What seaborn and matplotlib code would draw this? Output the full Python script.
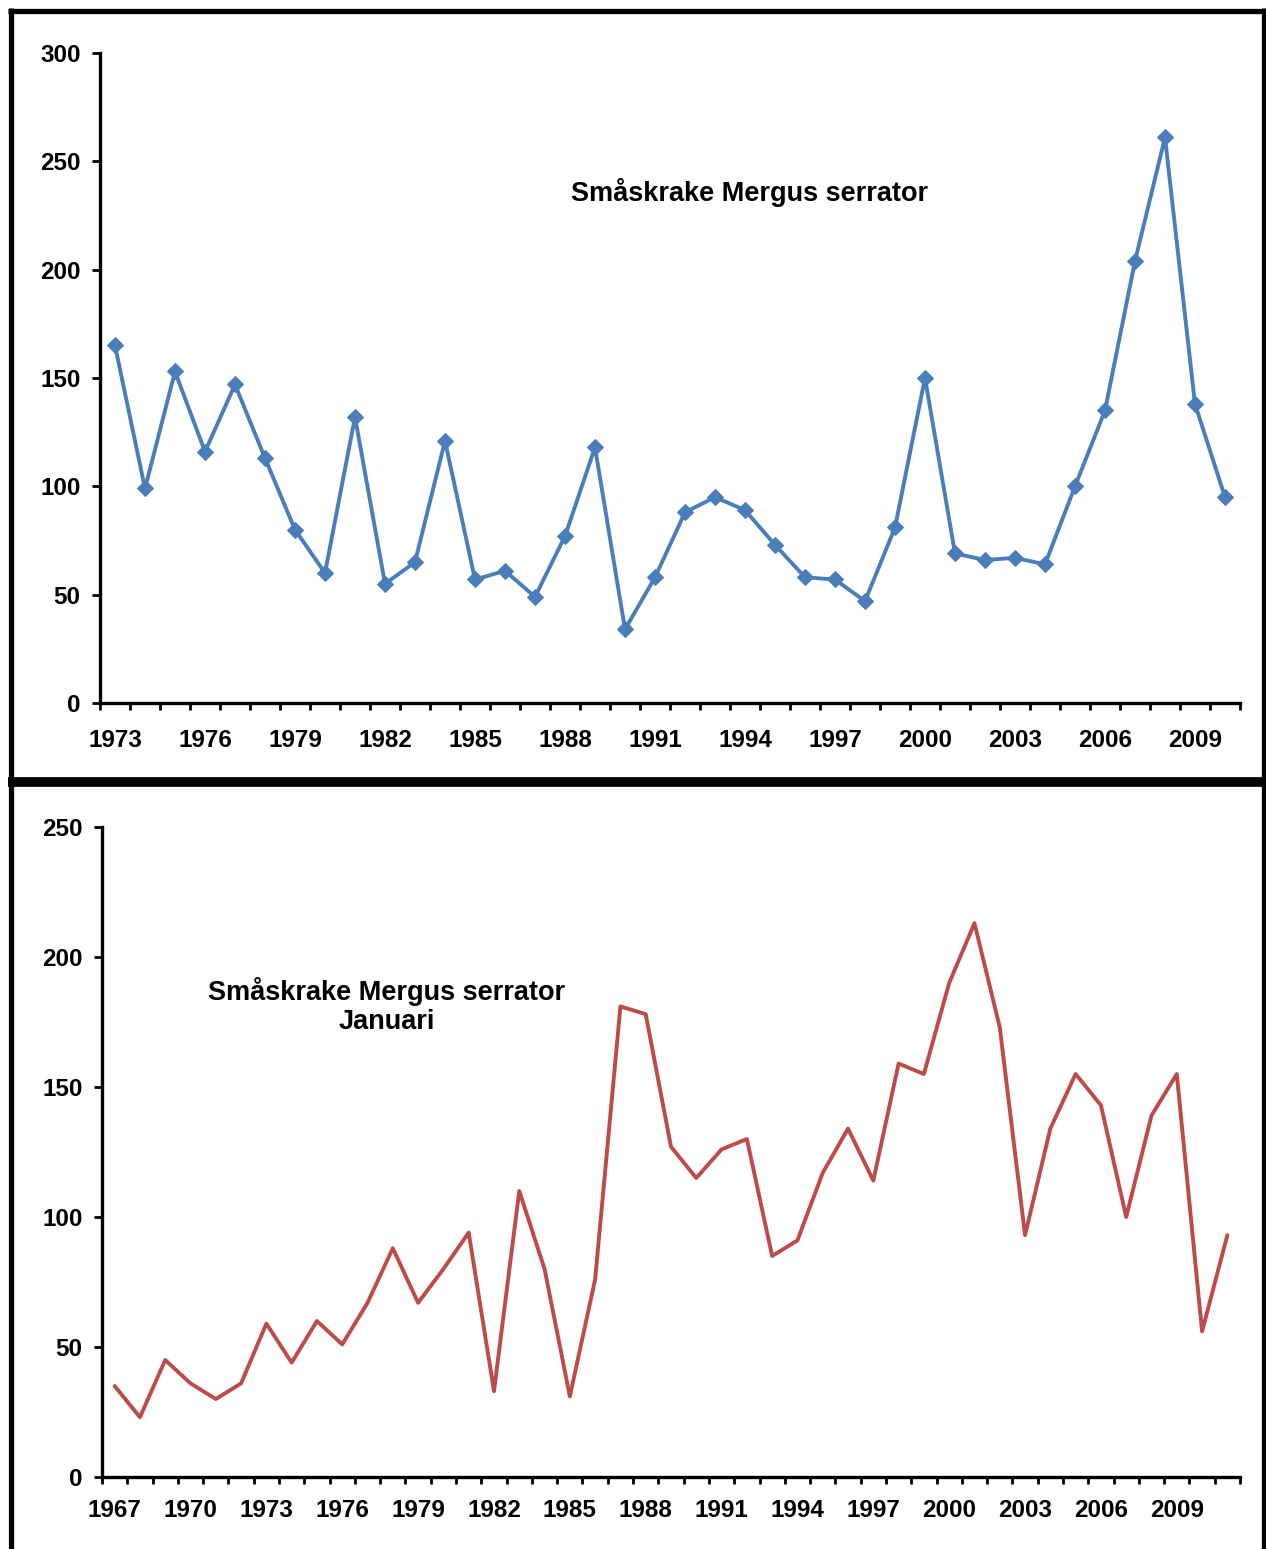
import numpy as np
import matplotlib
matplotlib.use("Agg")
import matplotlib.pyplot as plt
import seaborn as sns

sns.set_theme(style="white")
plt.rcParams["font.family"] = ["Liberation Sans", "DejaVu Sans"]
plt.rcParams["font.weight"] = "bold"
plt.rcParams["text.color"] = "black"
plt.rcParams["xtick.color"] = "black"
plt.rcParams["ytick.color"] = "black"

# Top panel: annual counts 1973-2010
years_top = list(range(1973, 2011))
counts_top = [165, 99, 153, 116, 147, 113, 80, 60, 132, 55,
              65, 121, 57, 61, 49, 77, 118, 34, 58, 88,
              95, 89, 73, 58, 57, 47, 81, 150, 69, 66,
              67, 64, 100, 135, 204, 261, 138, 95]

# Bottom panel: January counts 1967-2011
years_bot = list(range(1967, 2012))
counts_bot = [35, 23, 45, 36, 30, 36, 59, 44, 60, 51,
              67, 88, 67, 80, 94, 33, 110, 80, 31, 76,
              181, 178, 127, 115, 126, 130, 85, 91, 117, 134,
              114, 159, 155, 190, 213, 173, 93, 134, 155, 143,
              100, 139, 155, 56, 93]

W, H = 1266, 1549
fig = plt.figure(figsize=(W / 100, H / 100), dpi=100)
fig.patch.set_facecolor("white")


def frac(x0, y0, x1, y1):
    # pixel box -> figure fraction [left, bottom, width, height]
    return [x0 / W, 1 - y1 / H, (x1 - x0) / W, (y1 - y0) / H]


def style_axes(ax, years, ymax, step, xpad):
    n = len(years)
    ax.set_xlim(-0.5, n - 0.5)
    ax.set_ylim(0, ymax)
    for s in ["top", "right"]:
        ax.spines[s].set_visible(False)
    for s in ["left", "bottom"]:
        ax.spines[s].set_color("black")
        ax.spines[s].set_linewidth(2.4)
    ax.set_facecolor("white")
    ax.grid(False)
    lab_pos = np.arange(0, n, 3)
    ax.set_xticks(lab_pos, [str(years[i]) for i in lab_pos])
    ax.set_xticks(np.arange(-0.5, n, 1), minor=True)
    ax.tick_params(axis="x", which="major", length=0, pad=xpad, labelsize=17.5,
                   labelcolor="black")
    ax.tick_params(axis="x", which="minor", length=5, width=2, color="black",
                   direction="out", bottom=True)
    ax.set_yticks(np.arange(0, ymax + 1, step))
    ax.tick_params(axis="y", length=6, width=2, color="black", direction="out",
                   left=True, pad=8, labelsize=17.5, labelcolor="black")
    for lbl in ax.get_xticklabels() + ax.get_yticklabels():
        lbl.set_fontweight("bold")
    ax.set_xlabel("")
    ax.set_ylabel("")


# Top chart
ax1 = fig.add_axes(frac(100, 53, 1240, 703))
sns.lineplot(x=np.arange(len(years_top)), y=counts_top, ax=ax1, color="#4A7EBB",
             linewidth=2.8, marker="D", markersize=8, markeredgecolor="#4A7EBB")
style_axes(ax1, years_top, 300, 50, 19)
ax1.text(0.570, 0.786, "Småskrake Mergus serrator", transform=ax1.transAxes,
         ha="center", va="center", fontsize=19.5, fontweight="bold", color="black")

# Bottom chart
ax2 = fig.add_axes(frac(102, 827, 1240, 1477))
sns.lineplot(x=np.arange(len(years_bot)), y=counts_bot, ax=ax2, color="#BE4B48",
             linewidth=2.8)
style_axes(ax2, years_bot, 250, 50, 16)
ax2.text(0.2504, 0.7246, "Småskrake Mergus serrator\nJanuari", transform=ax2.transAxes,
         ha="center", va="center", fontsize=19.5, fontweight="bold", linespacing=1.15,
         color="black")

# Outer frame and divider drawn in figure pixels
def hline(y, x0, x1, lw):
    fig.add_artist(plt.Line2D([x0 / W, x1 / W], [1 - y / H, 1 - y / H],
                              color="black", linewidth=lw, solid_capstyle="butt",
                              transform=fig.transFigure))


def vline(x, y0, y1, lw):
    fig.add_artist(plt.Line2D([x / W, x / W], [1 - y0 / H, 1 - y1 / H],
                              color="black", linewidth=lw, solid_capstyle="butt",
                              transform=fig.transFigure))


hline(10.5, 8, 1266, 3.8)
vline(10.5, 8, 782, 3.8)
vline(1263.5, 8, 782, 3.8)
hline(782, 8, 1266, 7)
vline(10.5, 782, 1549, 3.8)
vline(1263.5, 782, 1549, 3.8)

fig.savefig("out.png", dpi=100, facecolor="white")
